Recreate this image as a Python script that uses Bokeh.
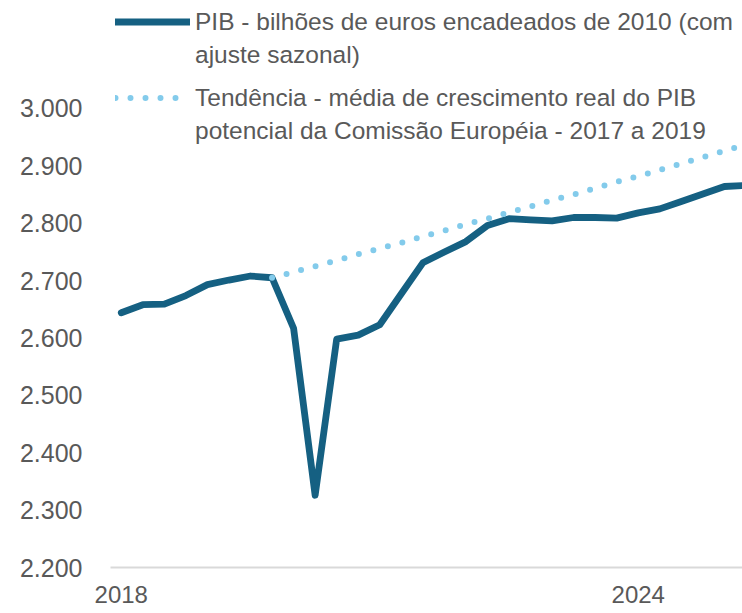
from bokeh.plotting import figure
from bokeh.models import FixedTicker, Legend, LegendItem, Range1d, ColumnDataSource
from bokeh.embed import file_html
from bokeh.resources import INLINE

quarters = ["2018T1", "2018T2", "2018T3", "2018T4",
            "2019T1", "2019T2", "2019T3", "2019T4",
            "2020T1", "2020T2", "2020T3", "2020T4",
            "2021T1", "2021T2", "2021T3", "2021T4",
            "2022T1", "2022T2", "2022T3", "2022T4",
            "2023T1", "2023T2", "2023T3", "2023T4",
            "2024T1", "2024T2", "2024T3", "2024T4",
            "2025T1", "2025T2"]

pib = [2644, 2658, 2659, 2674, 2693, 2701, 2708, 2705,
       2617, 2326, 2598, 2605, 2623, 2677, 2731, 2750,
       2768, 2796, 2808, 2806, 2804, 2810, 2810, 2809,
       2818, 2825, 2838, 2851, 2864, 2866]

nan = float("nan")
tendencia = [nan, nan, nan, nan, nan, nan, nan, 2705,
             2715, 2725, 2735, 2746, 2756, 2766, 2777, 2787,
             2798, 2808, 2819, 2829, 2840, 2850, 2861, 2872,
             2882, 2893, 2904, 2915, 2926, 2937]

y_ticks = [2200, 2300, 2400, 2500, 2600, 2700, 2800, 2900, 3000]
y_tick_labels = ["2.200", "2.300", "2.400", "2.500", "2.600",
                 "2.700", "2.800", "2.900", "3.000"]
x_tick_quarters = ["2018T1", "2024T1"]
x_tick_labels = ["2018", "2024"]

label_pib = ["PIB - bilhões de euros encadeados de 2010 (com", "ajuste sazonal)"]
label_tend = ["Tendência - média de crescimento real do PIB",
              "potencial da Comissão Européia - 2017 a 2019"]

x = list(range(len(quarters)))
src = ColumnDataSource(dict(x=x, pib=pib, tend=tendencia))

TEXT = "#595959"
DARK = "#156082"
LIGHT = "#83CBEB"

W, H = 742, 613
p = figure(width=W, height=H, output_backend="svg", toolbar_location=None,
           x_range=Range1d(-0.5, 28.84), y_range=Range1d(2200, 3188.2),
           min_border_left=110, min_border_right=0, min_border_top=0,
           min_border_bottom=46)
p.outline_line_color = None
p.xgrid.visible = False
p.ygrid.visible = False
p.background_fill_color = "white"
p.border_fill_color = "white"

r1 = p.line("x", "pib", source=src, line_color=DARK, line_width=6.8,
            line_cap="round", line_join="round")
r2 = p.line("x", "tend", source=src, line_color=LIGHT, line_width=6,
            line_dash="0 15", line_cap="round")
# invisible renderers used only for the wrapped second lines of the legend texts
d1 = p.line(x=[], y=[], line_alpha=0)
d2 = p.line(x=[], y=[], line_alpha=0)

# y axis
p.yaxis.ticker = FixedTicker(ticks=y_ticks)
p.yaxis.major_label_overrides = {t: l for t, l in zip(y_ticks, y_tick_labels)}
p.yaxis.axis_line_color = None
p.yaxis.major_tick_line_color = None
p.yaxis.minor_tick_line_color = None
p.yaxis.major_tick_out = 0
p.yaxis.major_tick_in = 0
p.yaxis.minor_tick_out = 0
p.yaxis.major_label_standoff = 28
p.yaxis.major_label_text_font = "Liberation Sans"
p.yaxis.major_label_text_font_size = "25px"
p.yaxis.major_label_text_color = TEXT

# x axis
x_ticks = [quarters.index(q) for q in x_tick_quarters]
p.xaxis.ticker = FixedTicker(ticks=x_ticks)
p.xaxis.major_label_overrides = {t: l for t, l in zip(x_ticks, x_tick_labels)}
p.xaxis.axis_line_color = "#D9D9D9"
p.xaxis.axis_line_width = 2
p.xaxis.major_tick_line_color = None
p.xaxis.minor_tick_line_color = None
p.xaxis.major_tick_out = 0
p.xaxis.major_tick_in = 0
p.xaxis.minor_tick_out = 0
p.xaxis.major_label_standoff = 18
p.xaxis.major_label_text_font = "Liberation Sans"
p.xaxis.major_label_text_font_size = "24px"
p.xaxis.major_label_text_color = TEXT

common = dict(padding=0, margin=0, spacing=0, glyph_width=75, glyph_height=33,
              label_height=33, label_standoff=5,
              label_text_font="Liberation Sans", label_text_font_size="24.5px",
              label_text_color=TEXT, background_fill_alpha=0,
              border_line_color=None)

# legend positions: offsets of each legend's bottom-left corner from the frame's bottom-left
legend_a = Legend(items=[LegendItem(label=label_pib[0], renderers=[r1]),
                         LegendItem(label=label_pib[1], renderers=[d1])],
                  location=(5, 496), **common)
legend_b = Legend(items=[LegendItem(label=label_tend[0], renderers=[r2]),
                         LegendItem(label=label_tend[1], renderers=[d2])],
                  location=(5, 420), **common)
p.add_layout(legend_a)
p.add_layout(legend_b)

open("out.html", "w").write(file_html(p, INLINE))
